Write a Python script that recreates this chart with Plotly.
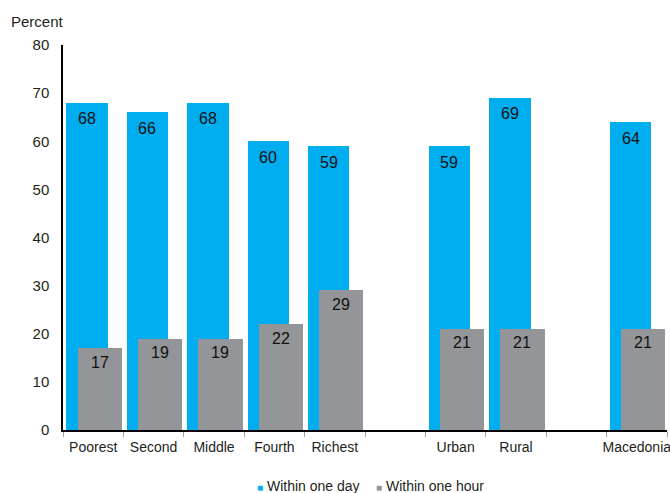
import plotly.graph_objects as go

# Groups of categories, separated by an empty slot on the axis
groups = [
    ["Poorest", "Second", "Middle", "Fourth", "Richest"],
    ["Urban", "Rural"],
    ["Macedonia"],
]
within_day = [68, 66, 68, 60, 59, 59, 69, 64]
within_hour = [17, 19, 19, 22, 29, 21, 21, 21]
y_ticks = [0, 10, 20, 30, 40, 50, 60, 70, 80]

BLUE = "#00AEEF"
GREY = "#939598"
TEXT = "#231f20"
FONT = "Liberation Sans"

# slot index for every category (one blank slot between groups)
categories, slots = [], []
pos = 0
for gi, grp in enumerate(groups):
    for name in grp:
        categories.append(name)
        slots.append(pos)
        pos += 1
    if gi < len(groups) - 1:
        pos += 1
n_slots = pos

DAY_OFF, DAY_W = 0.056, 0.685
HOUR_OFF, HOUR_W = 0.24, 0.735

fig = go.Figure()
fig.add_trace(go.Bar(
    x=slots, y=within_day, offset=DAY_OFF, width=DAY_W,
    marker=dict(color=BLUE, line=dict(width=0)), showlegend=False,
    hoverinfo="y", name="Within one day",
))
fig.add_trace(go.Bar(
    x=slots, y=within_hour, offset=HOUR_OFF, width=HOUR_W,
    marker=dict(color=GREY, line=dict(width=0)), showlegend=False,
    hoverinfo="y", name="Within one hour",
))
# legend entries: small coloured square drawn in the entry text,
# each series in its own legend box so the spacing can be set
for (name, col), leg in zip([("Within one day", BLUE), ("Within one hour", GREY)],
                            ["legend", "legend2"]):
    fig.add_trace(go.Scatter(
        x=[None], y=[None], mode="markers", legend=leg,
        name=f'<span style="color:{col};font-size:10px">■</span> {name}',
        marker=dict(symbol="square", size=1, color="rgba(0,0,0,0)"),
    ))

# value labels just below each bar top
annotations = []
for s, v in zip(slots, within_day):
    annotations.append(dict(
        x=s + DAY_OFF + DAY_W / 2, y=v, xref="x", yref="y",
        text=str(v), showarrow=False, yanchor="middle", yshift=-16,
        font=dict(size=16, color="#111111", family=FONT),
    ))
for s, v in zip(slots, within_hour):
    annotations.append(dict(
        x=s + HOUR_OFF + HOUR_W / 2, y=v, xref="x", yref="y",
        text=str(v), showarrow=False, yanchor="middle", yshift=-14,
        font=dict(size=16, color="#111111", family=FONT),
    ))
annotations.append(dict(
    x=-0.09, y=1.06, xref="paper", yref="paper", text="Percent",
    showarrow=False, xanchor="left", yanchor="middle",
    font=dict(size=15, color=TEXT, family=FONT),
))

legend_style = dict(
    orientation="h", xanchor="left", y=-0.145, yanchor="middle",
    font=dict(size=14, color=TEXT, family=FONT), itemwidth=30,
    bgcolor="rgba(0,0,0,0)",
)

fig.update_layout(
    width=670, height=493,
    margin=dict(l=63, r=3, t=45, b=63, autoexpand=False),
    paper_bgcolor="white", plot_bgcolor="white",
    barmode="overlay", bargap=0,
    font=dict(family=FONT, size=14, color=TEXT),
    annotations=annotations,
    legend=dict(x=0.255, **legend_style),
    legend2=dict(x=0.452, **legend_style),
    xaxis=dict(
        range=[0, n_slots], showgrid=False, zeroline=False,
        showline=True, linecolor="black", linewidth=1.5,
        tickmode="array",
        tickvals=[s + 0.5 for s in slots], ticktext=categories,
        ticks="", ticklabelstandoff=3, ticklabeloverflow="allow",
        minor=dict(tickmode="array", tickvals=list(range(n_slots + 1)),
                   ticks="outside", ticklen=5, tickcolor="#a0a0a0",
                   tickwidth=1, showgrid=False),
        tickfont=dict(size=14, color=TEXT, family=FONT),
        automargin=False, fixedrange=True,
    ),
    yaxis=dict(
        range=[0, 80], showgrid=False, zeroline=False,
        showline=True, linecolor="black", linewidth=1.5,
        tickmode="array", tickvals=y_ticks, ticks="",
        ticklabelstandoff=9,
        tickfont=dict(size=15, color=TEXT, family=FONT),
        automargin=False, fixedrange=True,
    ),
)

fig.write_html("out.html")
